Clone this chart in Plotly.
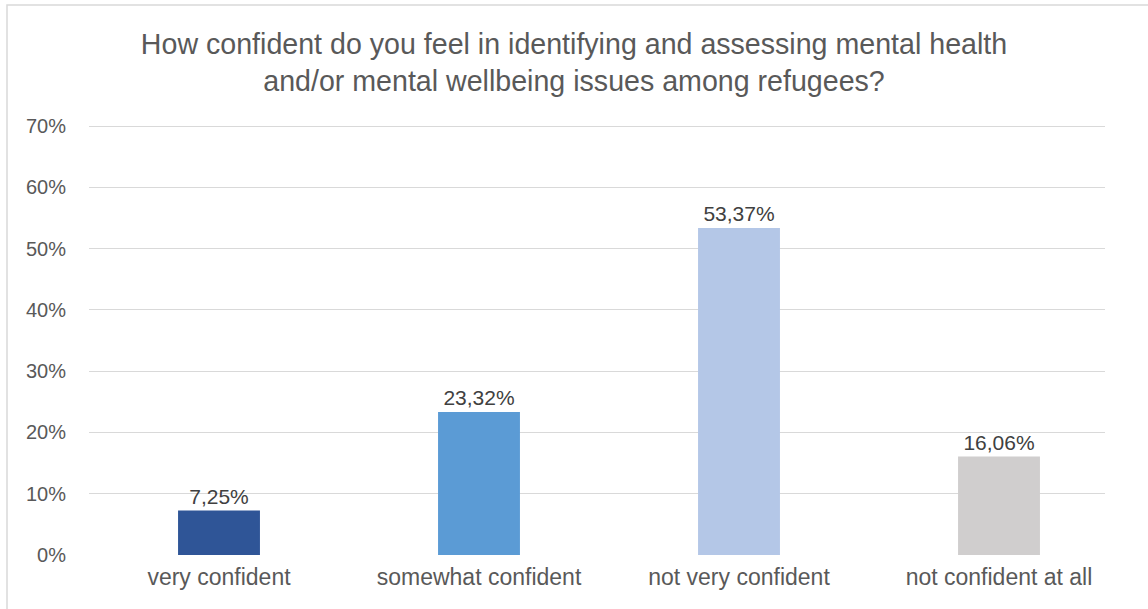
import plotly.graph_objects as go

categories = ["very confident", "somewhat confident", "not very confident", "not confident at all"]
values = [7.25, 23.32, 53.37, 16.06]
colors = ["#2F5597", "#5B9BD5", "#B4C7E7", "#D0CECE"]
y_ticks = [0, 10, 20, 30, 40, 50, 60, 70]
title_text = "How confident do you feel in identifying and assessing mental health<br>and/or mental wellbeing issues among refugees?"

labels = [f"{v:.2f}".replace(".", ",") + "%" for v in values]

W, H = 1148, 609
L, R, T, B = 89, 1105, 123, 555

fig = go.Figure(go.Bar(
    x=categories, y=values, marker=dict(color=colors, line=dict(width=0)),
    width=0.315, text=labels, textposition="outside", cliponaxis=False,
    textfont=dict(family="Liberation Sans, Arial", size=21, color="#404040"),
))

fig.update_layout(
    width=W, height=H,
    margin=dict(l=L, r=W - R, t=T, b=H - B, pad=0),
    paper_bgcolor="white", plot_bgcolor="white",
    font=dict(family="Liberation Sans, Arial", color="#595959"),
    showlegend=False,
    title=dict(text=title_text, x=0.5, xanchor="center", xref="container",
               y=1 - 54 / H, yanchor="top", yref="container",
               font=dict(size=28.6, color="#595959")),
    xaxis=dict(range=[-0.5, 3.5 - 24 / 260], showgrid=False, showline=False, zeroline=False,
               tickfont=dict(size=23, color="#595959"), ticks="", ticklabelstandoff=6),
    yaxis=dict(range=[0, 70.5], tickvals=y_ticks, ticktext=[f"{t}%" for t in y_ticks],
               showgrid=True, gridcolor="#D9D9D9", gridwidth=1.3, zeroline=False,
               showline=False, tickfont=dict(size=20, color="#595959"),
               ticklabelstandoff=22),
    shapes=[dict(type="rect", xref="paper", yref="paper",
                 x0=(7 - L) / (R - L), x1=1.3, y0=-0.3, y1=(B - 5) / (B - T),
                 line=dict(color="#D9D9D9", width=1.5), layer="below")],
)

fig.write_html("out.html")
